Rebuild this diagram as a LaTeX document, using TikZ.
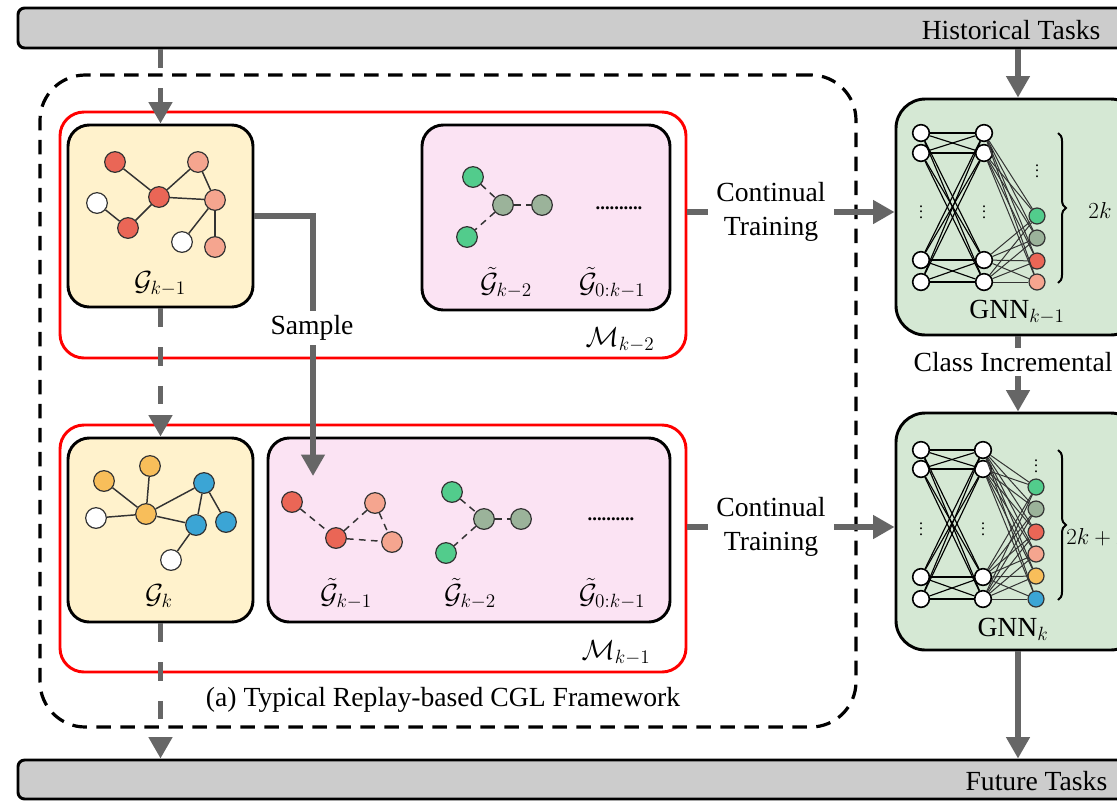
\documentclass[tikz,border=0pt]{standalone}
\usepackage{fontspec}
\setmainfont{Liberation Serif}
\usetikzlibrary{arrows.meta,fit,decorations.pathreplacing,calc}

\definecolor{barfill}{HTML}{CCCCCC}
\definecolor{yellowfill}{HTML}{FFF2CC}
\definecolor{pinkfill}{HTML}{FBE3F3}
\definecolor{greenfill}{HTML}{D5E8D4}
\definecolor{arrowgray}{HTML}{666666}
\definecolor{nodeedge}{HTML}{333333}
\definecolor{cred}{HTML}{EA6656}
\definecolor{csalmon}{HTML}{F5A58F}
\definecolor{cgreen}{HTML}{52CC8C}
\definecolor{cgg}{HTML}{9BB39A}
\definecolor{corange}{HTML}{F8BE5A}
\definecolor{cblue}{HTML}{3BA5D5}

\begin{document}
\begin{tikzpicture}[x=0.75pt,y=-0.75pt,
  every node/.style={font=\fontsize{20.74}{25}\selectfont},
  bar/.style={draw=black, line width=2.2pt, fill=barfill, rounded corners=5pt, inner sep=0pt},
  panel/.style={draw=black, line width=2.2pt, rounded corners=16pt, inner sep=0pt},
  membox/.style={draw=red, line width=2.2pt, rounded corners=18pt, inner sep=0pt},
  frame/.style={draw=black, line width=2.4pt, dash pattern=on 11pt off 7pt, rounded corners=34pt, inner sep=0pt},
  flow/.style={draw=arrowgray, line width=3.8pt, -{Triangle[length=16pt,width=17pt]}},
  dflow/.style={flow, dash pattern=on 14pt off 15pt},
  vtx/.style={circle, draw=nodeedge, line width=0.9pt, minimum size=15.5pt, inner sep=0pt},
  gedge/.style={draw=nodeedge, line width=1.1pt},
  medge/.style={gedge, dash pattern=on 5pt off 4pt},
  nn/.style={circle, draw=black, line width=1.2pt, fill=white, minimum size=12.5pt, inner sep=0pt},
  nnout/.style={circle, draw=nodeedge, line width=0.9pt, minimum size=12pt, inner sep=0pt},
  nnedge/.style={draw=black, line width=0.85pt},
  nnedgeb/.style={draw=nodeedge, line width=0.75pt},
  vd/.style={font=\fontsize{12}{14}\selectfont, inner sep=0pt},
  hd/.style={font=\fontsize{14}{16}\selectfont\bfseries, inner sep=0pt},
  brc/.style={draw=black, line width=1.5pt, decorate, decoration={brace, amplitude=6pt}},
  tag/.style={fill=white, inner sep=3pt},
]
\useasboundingbox (0,0) rectangle (1117,801);
\clip (0,0) rectangle (1117,801);

% task bars
\node[bar, fit={(18,8) (1150,48)}] (hist) {};
\node[anchor=east] (histlbl) at (1105,30) {Historical Tasks};
\node[bar, fit={(18,760) (1150,799)}] (fut) {};
\node[anchor=east] (futlbl) at (1112,781) {Future Tasks};

% replay framework frame
\node[frame, fit={(40,75) (856,727)}] (frame) {};
\node (caption) at (443,700) {(a) Typical Replay-based CGL Framework};

% memory stages
\node[membox, fit={(60,112) (686,358)}] (memA) {};
\node[membox, fit={(60,425) (686,672)}] (memB) {};
\node (MA) at (620,340) {$\mathcal{M}_{k-2}$};
\node (MB) at (616,653) {$\mathcal{M}_{k-1}$};

% task graphs and buffers
\node[panel, fill=yellowfill, fit={(68,125) (253,307)}] (gprev) {};
\node[panel, fill=pinkfill, fit={(422,125) (670,310)}] (bufA) {};
\node[panel, fill=yellowfill, fit={(68,438) (253,622)}] (gcur) {};
\node[panel, fill=pinkfill, fit={(268,438) (670,622)}] (bufB) {};

% graph of task k-1
\node[vtx, fill=cred] (p1) at (115,162) {};
\node[vtx, fill=csalmon] (p2) at (198,162) {};
\node[vtx, fill=cred] (p3) at (159,197) {};
\node[vtx, fill=csalmon] (p4) at (215,200) {};
\node[vtx, fill=white] (p5) at (97,203) {};
\node[vtx, fill=cred] (p6) at (128,228) {};
\node[vtx, fill=white] (p7) at (182,242) {};
\node[vtx, fill=csalmon] (p8) at (215,247) {};
\foreach \a/\b in {p1/p3,p3/p2,p3/p4,p2/p4,p3/p6,p6/p5,p4/p7,p4/p8}
  \draw[gedge] (\a) -- (\b);
\node (lprev) at (160,284) {$\mathcal{G}_{k-1}$};

% graph of task k
\node[vtx, fill=corange] (c1) at (104,481) {};
\node[vtx, fill=corange] (c2) at (150,466) {};
\node[vtx, fill=corange] (c3) at (146,514) {};
\node[vtx, fill=white] (c4) at (96,518) {};
\node[vtx, fill=cblue] (c5) at (204,483) {};
\node[vtx, fill=cblue] (c6) at (196,525) {};
\node[vtx, fill=cblue] (c7) at (226,522) {};
\node[vtx, fill=white] (c8) at (171,560) {};
\foreach \a/\b in {c1/c3,c2/c3,c4/c3,c3/c5,c3/c6,c5/c6,c5/c7,c6/c8}
  \draw[gedge] (\a) -- (\b);
\node (lcur) at (159,596) {$\mathcal{G}_{k}$};

% buffer before task k-1
\node[vtx, fill=cgreen] (a1) at (473,177) {};
\node[vtx, fill=cgg] (a2) at (503,205) {};
\node[vtx, fill=cgg] (a3) at (542,205) {};
\node[vtx, fill=cgreen] (a4) at (467,237) {};
\foreach \a/\b in {a1/a2,a2/a3,a2/a4}
  \draw[medge] (\a) -- (\b);
\node[hd] (adots) at (619,208) {..........};
\node (la2) at (506,283) {$\tilde{\mathcal{G}}_{k-2}$};
\node (la0) at (612,283) {$\tilde{\mathcal{G}}_{0:k-1}$};

% buffer before task k
\node[vtx, fill=cred] (b1) at (292,502) {};
\node[vtx, fill=cred] (b2) at (336,538) {};
\node[vtx, fill=csalmon] (b3) at (375,503) {};
\node[vtx, fill=csalmon] (b4) at (392,542) {};
\foreach \a/\b in {b1/b2,b2/b3,b2/b4,b3/b4}
  \draw[medge] (\a) -- (\b);
\node[vtx, fill=cgreen] (d1) at (452,492) {};
\node[vtx, fill=cgg] (d2) at (484,519) {};
\node[vtx, fill=cgg] (d3) at (521,519) {};
\node[vtx, fill=cgreen] (d4) at (446,553) {};
\foreach \a/\b in {d1/d2,d2/d3,d2/d4}
  \draw[medge] (\a) -- (\b);
\node[hd] (bdots) at (611,519) {..........};
\node (lb1) at (346,594) {$\tilde{\mathcal{G}}_{k-1}$};
\node (lb2) at (470,594) {$\tilde{\mathcal{G}}_{k-2}$};
\node (lb0) at (612,594) {$\tilde{\mathcal{G}}_{0:k-1}$};

% models
\node[panel, fill=greenfill, rounded corners=22pt, fit={(896,99) (1140,335)}] (gnnA) {};
\node[panel, fill=greenfill, rounded corners=22pt, fit={(896,413) (1140,650)}] (gnnB) {};

% network of GNN k-1
\foreach \n/\y in {1/133,2/153,3/260,4/282} {
  \node[nn] (Ai\n) at (921,\y) {};
  \node[nn] (Ah\n) at (984,\y) {};
}
\foreach \n/\y/\c in {1/216/cgreen,2/238/cgg,3/261/cred,4/282/csalmon}
  \node[nnout, fill=\c] (Ao\n) at (1037,\y) {};
\foreach \a in {1,...,4} \foreach \b in {1,...,4} {
  \draw[nnedge] (Ai\a) -- (Ah\b);
  \draw[nnedgeb] (Ah\a) -- (Ao\b);
}
\node[vd] (Aid) at (921,208) {$\vdots$};
\node[vd] (Ahd) at (984,208) {$\vdots$};
\node[vd] (Aod) at (1037,167) {$\vdots$};
\coordinate (Abt) at (1058,133);
\coordinate (Abb) at (1058,283);
\draw[brc] (Abt) -- (Abb);
\node[font=\fontsize{16}{18}\selectfont] (Ak) at (1100,210) {$2k$};
\node (lgA) at (1017,312) {$\mathrm{GNN}_{k-1}$};

% network of GNN k
\foreach \n/\y in {1/450,2/469,3/577,4/599} {
  \node[nn] (Bi\n) at (921,\y) {};
  \node[nn] (Bh\n) at (983,\y) {};
}
\foreach \n/\y/\c in {1/487/cgreen,2/509/cgg,3/532/cred,4/554/csalmon,5/576/corange,6/599/cblue}
  \node[nnout, fill=\c] (Bo\n) at (1036,\y) {};
\foreach \a in {1,...,4} {
  \foreach \b in {1,...,4} \draw[nnedge] (Bi\a) -- (Bh\b);
  \foreach \b in {1,...,6} \draw[nnedgeb] (Bh\a) -- (Bo\b);
}
\node[vd] (Bid) at (921,525) {$\vdots$};
\node[vd] (Bhd) at (983,525) {$\vdots$};
\node[vd] (Bod) at (1036,462) {$\vdots$};
\coordinate (Bbt) at (1058,450);
\coordinate (Bbb) at (1058,600);
\draw[brc] (Bbt) -- (Bbb);
\node[font=\fontsize{16}{18}\selectfont, anchor=west, inner sep=0pt] (Bk) at (1066,537) {$2k+2$};
\node (lgB) at (1013,629) {$\mathrm{GNN}_{k}$};

% task flow on the left
\draw[dflow] (gprev.north |- hist.south) -- (gprev.north);
\draw[dflow] (gprev.south) -- (gcur.north);
\draw[dflow] (gcur.south) -- (gcur.south |- fut.north);

% sampling into the buffer
\coordinate (sampleend) at (313,476);
\draw[flow] (gprev.east) -| (sampleend);
\node[tag] (sample) at (312,328) {Sample};

% training of the models
\node[align=center, inner sep=0pt] (ctA) at (771,212) {Continual\\Training};
\node[align=center, inner sep=0pt] (ctB) at (771,527) {Continual\\Training};
\draw[flow, -] (memA.east |- ctA) -- ($(ctA.west)+(-8,0)$);
\draw[flow] ($(ctA.east)+(8,0)$) -- (gnnA.west |- ctA);
\draw[flow, -] (memB.east |- ctB) -- ($(ctB.west)+(-8,0)$);
\draw[flow] ($(ctB.east)+(8,0)$) -- (gnnB.west |- ctB);

% model flow on the right
\draw[flow] (gnnA.north |- hist.south) -- (gnnA.north);
\draw[flow] (gnnA.south) -- (gnnB.north);
\node[tag] (ci) at (1013,362) {Class Incremental};
\draw[flow] (gnnB.south) -- (gnnB.south |- fut.north);
\end{tikzpicture}
\end{document}
